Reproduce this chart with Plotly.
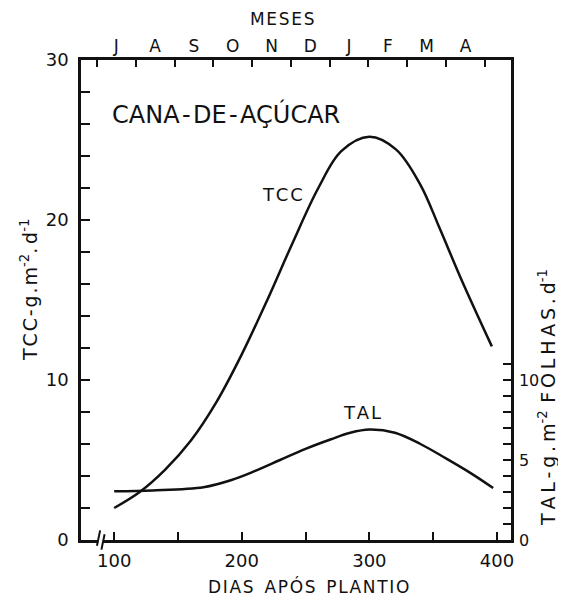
import plotly.graph_objects as go

# ---- data ----
tcc_days = [100, 120, 140, 160, 180, 200, 220, 240, 260, 278, 300, 321, 340, 355, 372, 396]
tcc_vals = [2.0, 3.0, 4.4, 6.2, 8.6, 11.6, 15.0, 18.6, 22.0, 24.3, 25.2, 24.4, 22.2, 19.5, 16.3, 12.1]

tal_days = [100, 130, 170, 192, 210, 230, 250, 270, 285, 300, 320, 340, 360, 380, 397]
tal_vals = [3.05, 3.1, 3.3, 3.75, 4.3, 5.0, 5.7, 6.3, 6.7, 6.9, 6.7, 6.0, 5.1, 4.15, 3.25]

months = ["J", "A", "S", "O", "N", "D", "J", "F", "M", "A"]
month_start_day = 86.5
month_len = 30.4
month_edges = [month_start_day + month_len * i for i in range(len(months) + 1)]
month_mids = [month_start_day + month_len * (i + 0.5) for i in range(len(months))]

x_ticks = [100, 200, 300, 400]
x_minor = [150, 250, 350]
y_ticks = [0, 10, 20, 30]
y2_ticks = [0, 5, 10]
y2_minor = [1, 2, 3, 4, 6, 7, 8, 9, 11]

XR = [74, 411]
YR = [0, 30]

FONT = "DejaVu Sans"
BLACK = "#111111"
HS = "\u200a"  # hair space used as letter spacing
TS = "\u2009"  # thin space

# page body has an 8px margin: size the figure so the plot lands where the reference has it
OFF = 8
PL, PR, PT, PB = 81, 511, 60, 540  # plot-area pixel box in the screenshot
W, H = 566 - OFF, 599 - OFF


def spaced(s, sep=HS):
    return sep.join(s)


fig = go.Figure()
fig.add_trace(go.Scatter(x=tcc_days, y=tcc_vals, mode="lines",
                         line=dict(color=BLACK, width=2.5, shape="spline", smoothing=1.0),
                         showlegend=False, hoverinfo="skip"))
fig.add_trace(go.Scatter(x=tal_days, y=tal_vals, mode="lines", yaxis="y2",
                         line=dict(color=BLACK, width=2.5, shape="spline", smoothing=1.0),
                         showlegend=False, hoverinfo="skip"))
# invisible traces to activate extra axes
fig.add_trace(go.Scatter(x=[XR[0]], y=[0], xaxis="x2", mode="markers",
                         marker=dict(opacity=0), showlegend=False, hoverinfo="skip"))
fig.add_trace(go.Scatter(x=[XR[0]], y=[0], xaxis="x3", mode="markers",
                         marker=dict(opacity=0), showlegend=False, hoverinfo="skip"))

axis_base = dict(showgrid=False, zeroline=False, linecolor=BLACK, automargin=False,
                 linewidth=2.5, tickcolor=BLACK, tickwidth=2)
tf18 = dict(family=FONT, size=18, color=BLACK)
tf17 = dict(family=FONT, size=17, color=BLACK)
tf16 = dict(family=FONT, size=16, color=BLACK)

fig.update_layout(
    width=W, height=H,
    margin=dict(l=PL - OFF, r=W - (PR - OFF), t=PT - OFF, b=H - (PB - OFF)),
    paper_bgcolor="white", plot_bgcolor="white",
    xaxis=dict(range=XR, tickvals=x_ticks, ticks="inside", ticklen=8, showline=True,
               ticklabelstandoff=3, tickfont=tf18,
               minor=dict(tickvals=x_minor, ticks="inside", ticklen=8,
                          tickcolor=BLACK, tickwidth=2),
               **axis_base),
    xaxis2=dict(range=XR, overlaying="x", side="top", tickvals=month_edges, showline=True,
                ticktext=[""] * len(month_edges), ticks="inside", ticklen=7, tickfont=tf17,
                **axis_base),
    xaxis3=dict(range=XR, overlaying="x", side="top", tickvals=month_mids, showline=False,
                ticktext=months, ticks="", ticklabelstandoff=4, tickfont=tf17,
                **axis_base),
    yaxis=dict(range=YR, tickvals=y_ticks, ticks="inside", ticklen=9, showline=True,
               ticklabelstandoff=6, tickfont=tf18,
               minor=dict(dtick=2, ticks="inside", ticklen=9,
                          tickcolor=BLACK, tickwidth=2),
               **axis_base),
    yaxis2=dict(range=YR, overlaying="y", side="right", tickvals=y2_ticks, showline=True,
                ticks="inside", ticklen=8, ticklabelstandoff=2, tickfont=tf16,
                minor=dict(tickvals=y2_minor, ticks="inside", ticklen=8,
                           tickcolor=BLACK, tickwidth=2),
                **axis_base),
)

pw, ph = PR - PL, PB - PT


def px(xpx):
    return (xpx - PL) / pw


def py(ypx):
    return (PB - ypx) / ph


title_font = dict(family=FONT, size=19, color=BLACK)
fig.add_annotation(text="CANA" + HS + "-" + HS + "DE" + HS + "-" + HS + "AÇÚCAR",
                   x=96.5, y=26.6, xref="x", yref="y",
                   xanchor="left", yanchor="middle", showarrow=False,
                   font=dict(family=FONT, size=24, color=BLACK))
fig.add_annotation(text=spaced("TCC"), x=232, y=21.6, xref="x", yref="y",
                   xanchor="center", yanchor="middle", showarrow=False, font=tf18)
fig.add_annotation(text=spaced("TAL"), x=294, y=8.0, xref="x", yref="y",
                   xanchor="center", yanchor="middle", showarrow=False, font=tf18)
fig.add_annotation(text=spaced("MESES"), x=px(282), y=py(19),
                   xref="paper", yref="paper", xanchor="center", yanchor="middle",
                   showarrow=False, font=tf17)
fig.add_annotation(text=" ".join(spaced(w) for w in ["DIAS", "APÓS", "PLANTIO"]).replace(" ", "\u00a0\u00a0"),
                   x=px(308), y=py(586),
                   xref="paper", yref="paper", xanchor="center", yanchor="middle",
                   showarrow=False, font=tf17)
fig.add_annotation(text=spaced("TCC-g.m") + "<sup>-2</sup>." + TS + "d<sup>-1</sup>", x=px(29),
                   y=py(290), xref="paper", yref="paper", textangle=-90,
                   xanchor="center", yanchor="middle", showarrow=False, font=title_font)
fig.add_annotation(text=spaced("TAL-g.m", TS) + "<sup>-2</sup>" + TS + TS + spaced("FOLHAS.d", TS) + "<sup>-1</sup>",
                   x=px(547), y=py(398), xref="paper", yref="paper", textangle=-90,
                   xanchor="center", yanchor="middle", showarrow=False, font=title_font)

# axis break on the bottom axis
fig.add_shape(type="rect", x0=87.5, x1=91.5, y0=-0.01, y1=0.01, xref="x", yref="paper",
              fillcolor="white", line=dict(width=0), layer="above")
fig.add_shape(type="line", x0=86.5, x1=89, y0=-0.012, y1=0.02, xref="x", yref="paper",
              line=dict(color=BLACK, width=2), layer="above")
fig.add_shape(type="line", x0=90, x1=92.5, y0=-0.02, y1=0.012, xref="x", yref="paper",
              line=dict(color=BLACK, width=2), layer="above")

fig.write_html("out.html")
